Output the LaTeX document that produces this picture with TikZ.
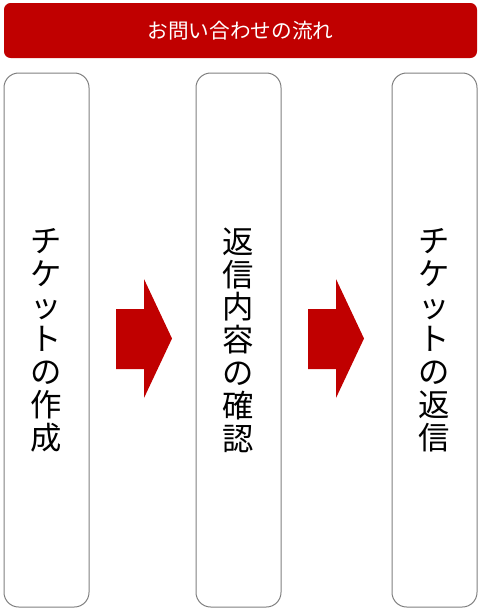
\documentclass[tikz,border=0pt]{standalone}
\usepackage{fontspec}
\setmainfont{Noto Sans CJK JP}
\definecolor{flowred}{HTML}{C00000}
\definecolor{boxgray}{HTML}{808080}
\tikzset{
  stepbox/.style={draw=boxgray,line width=0.75pt,rounded corners=11pt,
    minimum width=63.75pt,minimum height=400.5pt,inner sep=0pt,align=center,
    font=\fontsize{23.5}{24.6}\selectfont},
  headbox/.style={fill=flowred,rounded corners=5pt,minimum width=354.75pt,
    minimum height=41.25pt,inner sep=0pt,text=white,font=\fontsize{15.5}{18}\selectfont},
}
\begin{document}
\begin{tikzpicture}
  [x=0.75pt,y=-0.75pt]
  \useasboundingbox (0,0) rectangle (485,615);

  \node[headbox] (head) at (240.5,30.5) {お問い合わせの流れ};

  \node[stepbox] (make)  at (46.5,340)  {チ\\ケ\\ッ\\ト\\の\\作\\成};
  \node[stepbox] (check) at (238.5,340) {返\\信\\内\\容\\の\\確\\認};
  \node[stepbox] (reply) at (434.5,340) {チ\\ケ\\ッ\\ト\\の\\返\\信};

  % block arrows
  \fill[flowred] (116,309) -- (144,309) -- (144,279) -- (172,338.5)
    -- (144,398) -- (144,369) -- (116,369) -- cycle;
  \fill[flowred,xshift=192*0.75pt] (116,309) -- (144,309) -- (144,279) -- (172,338.5)
    -- (144,398) -- (144,369) -- (116,369) -- cycle;

\end{tikzpicture}
\end{document}
